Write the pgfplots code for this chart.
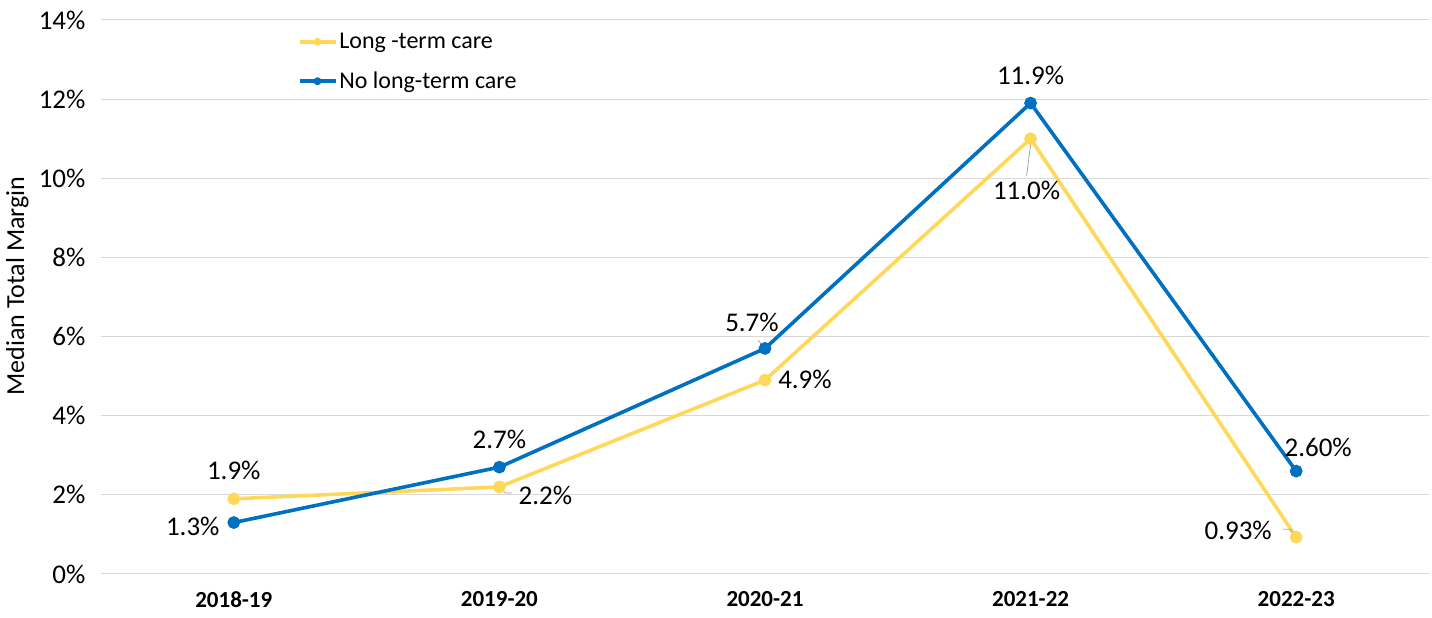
\documentclass[border=0pt]{standalone}
\usepackage{fontspec}
\setmainfont{Carlito}
\usepackage{pgfplots}
\pgfplotsset{compat=1.18}
\definecolor{ltc}{HTML}{FFD85A}
\definecolor{noltc}{HTML}{0070C0}
\definecolor{gridgray}{HTML}{D9D9D9}
\definecolor{leader}{HTML}{A6A6A6}

\begin{document}
\begin{tikzpicture}[x=1bp,y=1bp]
\path[use as bounding box] (0,0) rectangle (1432,618);
\begin{axis}[
  at={(101bp,44bp)}, anchor=south west,
  width=1328bp, height=554bp, scale only axis,
  xmin=-0.5, xmax=4.5, ymin=0, ymax=14,
  xtick={0,1,2,3,4},
  xticklabels={2018-19,2019-20,2020-21,2021-22,2022-23},
  ytick={0,2,4,6,8,10,12,14},
  yticklabel={\pgfmathprintnumber{\tick}\%},
  /pgf/number format/assume math mode=true,
  ymajorgrids,
  grid style={gridgray, line width=1bp},
  axis line style={draw=none},
  major tick length=0pt,
  xticklabel style={font=\fontsize{23bp}{27bp}\selectfont\bfseries, yshift=-14bp},
  yticklabel style={font=\fontsize{27bp}{31bp}\selectfont, xshift=-12bp},
  ylabel={Median Total Margin},
  ylabel style={font=\fontsize{26bp}{30bp}\selectfont, at={(axis description cs:-0.063,0.52)}, anchor=center},
  legend cell align=left,
  legend style={at={(axis description cs:0.148,0.980)}, anchor=north west,
    draw=none, fill=none, font=\fontsize{24bp}{28bp}\selectfont,
    row sep=18bp, inner sep=0pt,
    nodes={inner sep=2bp}},
  legend image code/.code={%
    \draw[#1] (0bp,0bp) -- (36bp,0bp);
    \fill[#1, draw=none] (18bp,0bp) circle (4bp);},
  every axis plot/.append style={line width=3.6bp},
  clip=false,
]
\addplot[ltc, mark=*, mark size=4.5bp, mark options={solid}] coordinates {
  (0,1.9) (1,2.2) (2,4.9) (3,11.0) (4,0.93)};
\addlegendentry{Long -term care}
\addplot[noltc, mark=*, mark size=4.5bp, mark options={solid}] coordinates {
  (0,1.3) (1,2.7) (2,5.7) (3,11.9) (4,2.60)};
\addlegendentry{No long-term care}

% value labels
\begin{scope}[every node/.style={font=\fontsize{27bp}{31bp}\selectfont, inner sep=0pt, anchor=center}]
\node[yshift=28bp] at (axis cs:0,1.9) {1.9\%};
\node[xshift=-41bp, yshift=-4bp] at (axis cs:0,1.3) {1.3\%};
\node[yshift=28bp] at (axis cs:1,2.7) {2.7\%};
\node[xshift=46bp, yshift=-8bp] at (axis cs:1,2.2) {2.2\%};
\node[xshift=-13bp, yshift=26bp] at (axis cs:2,5.7) {5.7\%};
\node[xshift=40bp, yshift=1bp] at (axis cs:2,4.9) {4.9\%};
\node[yshift=28bp] at (axis cs:3,11.9) {11.9\%};
\node[xshift=-4bp, yshift=-52bp] at (axis cs:3,11.0) {11.0\%};
\node[xshift=22bp, yshift=24bp] at (axis cs:4,2.60) {2.60\%};
\node[xshift=-58bp, yshift=7bp] at (axis cs:4,0.93) {0.93\%};
\end{scope}

% leader lines
\begin{scope}[leader, line width=0.8bp]
\draw ([shift={(0bp,-1bp)}]axis cs:1,2.2) -- ([shift={(6bp,-6bp)}]axis cs:1,2.2) -- ([shift={(13bp,-6bp)}]axis cs:1,2.2);
\draw ([shift={(-7bp,8bp)}]axis cs:2,5.7) -- ([shift={(-1bp,2bp)}]axis cs:2,5.7);
\draw ([shift={(0bp,-6bp)}]axis cs:3,11.0) -- ([shift={(-4bp,-37bp)}]axis cs:3,11.0);
\draw ([shift={(-13bp,8bp)}]axis cs:4,0.93) -- ([shift={(-6bp,8bp)}]axis cs:4,0.93) -- ([shift={(-2bp,3bp)}]axis cs:4,0.93);
\end{scope}
\end{axis}
\end{tikzpicture}
\end{document}
